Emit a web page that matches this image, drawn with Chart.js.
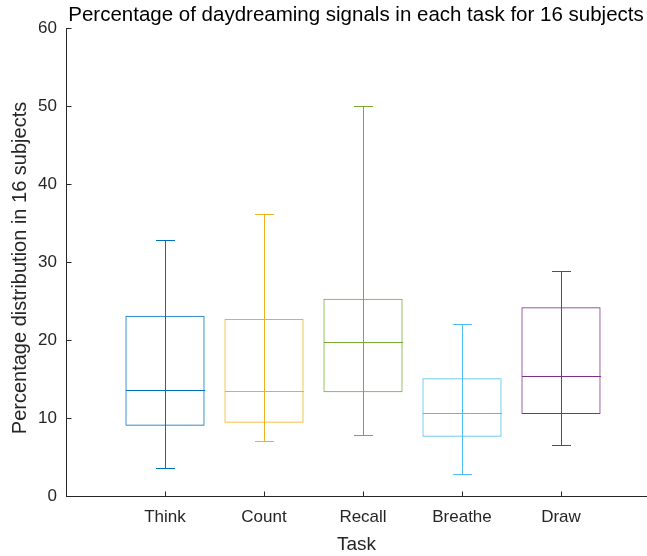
<!DOCTYPE html>
<html>
<head>
<meta charset="utf-8">
<script src="https://cdn.jsdelivr.net/npm/chart.js@4/dist/chart.umd.min.js"></script>
<style>
  body { margin: 0; background: #fff; overflow: hidden; }
</style>
</head>
<body>
<canvas id="myChart" width="647" height="556"></canvas>
<script>
// box plot numbers
var tasks = ['Think', 'Count', 'Recall', 'Breathe', 'Draw'];
var whiskerLow = [3.6, 7.1, 7.8, 2.8, 6.6];
var q1 = [9.0, 9.4, 13.3, 7.6, 10.5];
var median = [13.6, 13.4, 19.8, 10.7, 15.4];
var q3 = [23.1, 22.7, 25.3, 15.1, 24.2];
var whiskerHigh = [32.8, 36.2, 50.0, 22.1, 28.9];
var yTicks = [0, 10, 20, 30, 40, 50, 60];

var colors = ['#0072BD', '#EDB120', '#77AC30', '#4DBEEE', '#7E2F8E'];
var axisColor = '#262626';
var fontFam = '"Liberation Sans", Arial, Helvetica, sans-serif';

var boxData = tasks.map(function (t, i) {
    return { x: i + 1, y: [q1[i], q3[i]] };
});

// medians, whiskers, inward ticks, title and y label
var boxExtras = {
    id: 'boxExtras',
    afterDatasetsDraw: function (chart) {
        var ctx = chart.ctx;
        var xs = chart.scales.x, ys = chart.scales.y;
        var meta = chart.getDatasetMeta(0);
        ctx.save();
        ctx.lineWidth = 1;
        for (var i = 0; i < tasks.length; i++) {
            var bar = meta.data[i];
            var half = bar.width / 2;
            var cx = Math.round(xs.getPixelForValue(i + 1)) + 0.5;
            var cap = 9.5;
            var yMed = Math.round(ys.getPixelForValue(median[i])) + 0.5;
            var yLo = Math.round(ys.getPixelForValue(whiskerLow[i])) + 0.5;
            var yHi = Math.round(ys.getPixelForValue(whiskerHigh[i])) + 0.5;
            ctx.strokeStyle = colors[i];
            ctx.beginPath();
            ctx.moveTo(cx - half, yMed); ctx.lineTo(cx + half, yMed);
            ctx.moveTo(cx, yLo); ctx.lineTo(cx, yHi);
            ctx.moveTo(cx - cap, yLo); ctx.lineTo(cx + cap, yLo);
            ctx.moveTo(cx - cap, yHi); ctx.lineTo(cx + cap, yHi);
            ctx.stroke();
        }
        // inward ticks like matlab
        ctx.strokeStyle = axisColor;
        ctx.beginPath();
        var left = Math.round(chart.chartArea.left) + 0.5;
        var bottom = Math.round(chart.chartArea.bottom) + 0.5;
        yTicks.forEach(function (v) {
            var y = Math.round(ys.getPixelForValue(v)) + 0.5;
            ctx.moveTo(left, y); ctx.lineTo(left + 5, y);
        });
        for (var k = 1; k <= tasks.length; k++) {
            var x = Math.round(xs.getPixelForValue(k)) + 0.5;
            ctx.moveTo(x, bottom); ctx.lineTo(x, bottom - 5);
        }
        ctx.stroke();

        ctx.fillStyle = '#000';
        ctx.font = '20.5px ' + fontFam;
        ctx.textAlign = 'center';
        ctx.textBaseline = 'alphabetic';
        ctx.fillText('Percentage of daydreaming signals in each task for 16 subjects', 356, 21);

        ctx.fillStyle = '#262626';
        ctx.font = '20px ' + fontFam;
        ctx.translate(20, 268);
        ctx.rotate(-Math.PI / 2);
        ctx.textBaseline = 'middle';
        ctx.fillText('Percentage distribution in 16 subjects', 0, 0);
        ctx.restore();
    }
};

var ctx = document.getElementById('myChart').getContext('2d');
var myChart = new Chart(ctx, {
    type: 'bar',
    data: {
        datasets: [{
            data: boxData,
            backgroundColor: 'rgba(0,0,0,0)',
            borderColor: colors,
            borderWidth: 1,
            borderSkipped: false,
            barPercentage: 0.8,
            categoryPercentage: 1.0
        }]
    },
    options: {
        responsive: false,
        animation: false,
        layout: { padding: { top: 28, right: 0, left: 0, bottom: 0 } },
        plugins: {
            legend: { display: false },
            tooltip: { enabled: false }
        },
        scales: {
            x: {
                type: 'linear',
                offset: false,
                min: 0,
                max: 581 / 99,
                grid: { display: false },
                border: { display: true, color: axisColor, width: 1 },
                afterBuildTicks: function (scale) {
                    scale.ticks = tasks.map(function (t, i) { return { value: i + 1 }; });
                },
                afterFit: function (scale) { scale.height = 60; },
                ticks: {
                    color: '#262626',
                    font: { family: fontFam, size: 17 },
                    padding: 3,
                    maxRotation: 0,
                    autoSkip: false,
                    callback: function (v) { return tasks[v - 1]; }
                },
                title: {
                    display: true,
                    text: 'Task',
                    color: '#262626',
                    font: { family: fontFam, size: 19 },
                    padding: { top: 0, bottom: 0 }
                }
            },
            y: {
                min: 0,
                max: 60,
                grid: { display: false },
                border: { display: true, color: axisColor, width: 1 },
                afterBuildTicks: function (scale) {
                    scale.ticks = yTicks.map(function (v) { return { value: v }; });
                },
                afterFit: function (scale) { scale.width = 66; },
                ticks: {
                    color: '#262626',
                    font: { family: fontFam, size: 17 },
                    padding: 1
                }
            }
        }
    },
    plugins: [boxExtras]
});
</script>
</body>
</html>
